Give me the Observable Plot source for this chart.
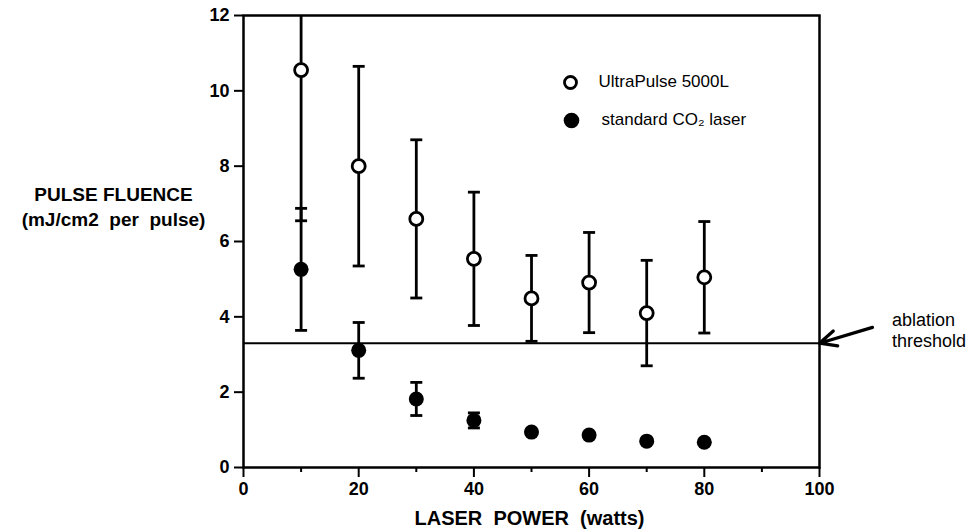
<!DOCTYPE html>
<html>
<head>
<meta charset="utf-8">
<script src="https://cdn.jsdelivr.net/npm/d3@7"></script>
<script src="https://cdn.jsdelivr.net/npm/@observablehq/plot@0.6"></script>
<style>
  html, body { margin: 0; padding: 0; background: #fff; }
  #chart { width: 972px; height: 529px; }
</style>
</head>
<body>
<div id="chart"></div>
<script>
// ---- data ----
const powers      = [10, 20, 30, 40, 50, 60, 70, 80];
const ultraMean   = [10.55, 8.0, 6.6, 5.54, 4.49, 4.91, 4.10, 5.05];
const ultraErr    = [4.0, 2.65, 2.1, 1.77, 1.14, 1.33, 1.40, 1.48];
const stdMean     = [5.26, 3.11, 1.82, 1.25, 0.94, 0.86, 0.70, 0.67];
const stdErr      = [1.62, 0.74, 0.44, 0.2, 0, 0, 0, 0];
const seriesNames = ["UltraPulse 5000L", "standard CO\u2082 laser"];
const xTicks      = [0, 20, 40, 60, 80, 100];
const xMinorTicks = [10, 30, 50, 70, 90];
const yTicks      = [0, 2, 4, 6, 8, 10, 12];
const threshold   = 3.3;
const xTitle      = "LASER\u00a0 POWER\u00a0 (watts)";
const yTitle      = "PULSE FLUENCE\n(mJ/cm2\u00a0 per\u00a0 pulse)";
const annotation  = {label: "ablation\nthreshold", textX: 112.6, textY: 3.66, tailX: 109.2, tailY: 3.72, tipX: 100};

// ---- tables ----
const ultra = powers.map((p, i) => ({power: p, mean: ultraMean[i], lo: ultraMean[i] - ultraErr[i], hi: ultraMean[i] + ultraErr[i], err: ultraErr[i]}));
const std   = powers.map((p, i) => ({power: p, mean: stdMean[i], lo: stdMean[i] - stdErr[i], hi: stdMean[i] + stdErr[i], err: stdErr[i]}));
const bars  = [...ultra, ...std].filter(d => d.err > 0);
const caps  = bars.flatMap(d => [{power: d.power, v: d.lo}, {power: d.power, v: d.hi}]);

const capSymbol = { draw(ctx) { ctx.moveTo(-6, 0); ctx.lineTo(6, 0); } };
const font = "'Liberation Sans', Arial, Helvetica, sans-serif";

const chart = Plot.plot({
  width: 972,
  height: 529,
  marginLeft: 243,
  marginRight: 153,
  marginTop: 15,
  marginBottom: 62,
  style: {fontFamily: font, fontSize: "18px", color: "#000", background: "#fff", overflow: "visible"},
  x: {domain: [0, 100]},
  y: {domain: [0, 12]},
  marks: [
    Plot.axisY({ticks: yTicks, tickSize: 9, tickPadding: 5, fontSize: 18, fontWeight: "bold", label: null, strokeWidth: 2}),
    Plot.axisX({ticks: xTicks, tickSize: 10, tickPadding: 5, fontSize: 18, fontWeight: "bold", label: null, strokeWidth: 2}),
    Plot.axisX({ticks: xMinorTicks, tickSize: 5, tickFormat: () => "", label: null, strokeWidth: 2}),
    Plot.ruleY([threshold], {stroke: "#000", strokeWidth: 2}),
    Plot.ruleX(bars, {x: "power", y1: "lo", y2: "hi", stroke: "#000", strokeWidth: 2.8, clip: true}),
    Plot.dot(caps, {x: "power", y: "v", symbol: capSymbol, fill: "none", stroke: "#000", strokeWidth: 2.8, clip: true}),
    Plot.dot(ultra, {x: "power", y: "mean", r: 6.5, fill: "#fff", stroke: "#000", strokeWidth: 2.8}),
    Plot.dot(std, {x: "power", y: "mean", r: 7.5, fill: "#000", stroke: "none"}),
    Plot.frame({stroke: "#000", strokeWidth: 2.5}),
    // legend
    Plot.dot([seriesNames[0]], {frameAnchor: "top-left", dx: 327, dy: 67, r: 6, fill: "#fff", stroke: "#000", strokeWidth: 2.8}),
    Plot.dot([seriesNames[1]], {frameAnchor: "top-left", dx: 328, dy: 105, r: 7.8, fill: "#000", stroke: "none"}),
    Plot.text([seriesNames[0]], {frameAnchor: "top-left", dx: 355, dy: 66, text: d => d, textAnchor: "start", lineAnchor: "middle", fontSize: 17, fill: "#000"}),
    Plot.text([seriesNames[1]], {frameAnchor: "top-left", dx: 358, dy: 104, text: d => d, textAnchor: "start", lineAnchor: "middle", fontSize: 17, fill: "#000"}),
    // axis titles
    Plot.text([yTitle], {frameAnchor: "left", dx: -130, dy: -36, text: d => d, textAnchor: "middle", lineAnchor: "middle", lineHeight: 1.3, fontSize: 19, fontWeight: "bold", fill: "#000", letterSpacing: "0.5px"}),
    Plot.text([xTitle], {frameAnchor: "bottom", dx: -2, dy: 51, text: d => d, textAnchor: "middle", lineAnchor: "middle", fontSize: 20, fontWeight: "bold", fill: "#000"}),
    // annotation
    Plot.arrow([annotation], {x1: "tailX", y1: "tailY", x2: "tipX", y2: () => threshold, stroke: "#000", strokeWidth: 3.2, headLength: 14, headAngle: 50}),
    Plot.text([annotation], {x: "textX", y: "textY", text: "label", textAnchor: "start", lineAnchor: "middle", lineHeight: 1.2, fontSize: 18, fill: "#000"})
  ]
});
document.getElementById("chart").appendChild(chart);
</script>
</body>
</html>
